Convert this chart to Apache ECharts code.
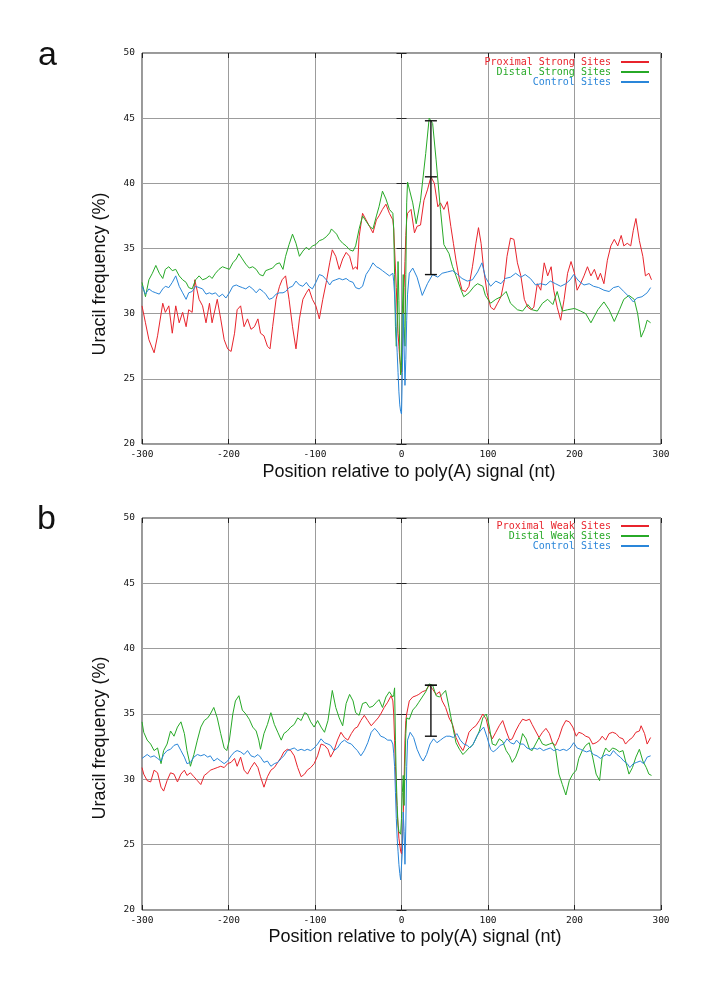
<!DOCTYPE html>
<html><head><meta charset="utf-8">
<script src="https://cdn.jsdelivr.net/npm/echarts@6/dist/echarts.min.js"></script>
<style>html,body{margin:0;padding:0;background:#fff}#c{width:720px;height:996px}</style>
</head><body><div id="c"></div>
<script>
const xTicks=[-300,-200,-100,0,100,200,300];
const yTicks=[20,25,30,35,40,45,50];
const namesA=['Proximal Strong Sites','Distal Strong Sites','Control Sites'];
const namesB=['Proximal Weak Sites','Distal Weak Sites','Control Sites'];
const panelLabels=['a','b'];
const xTitle='Position relative to poly(A) signal (nt)';
const yTitle='Uracil frequency (%)';

const aProximal=[[-300,30.6],[-296,29.3],[-292,28.0],[-286,27.0],[-282,28.3],[-276,30.8],[-273,30.1],[-269,30.6],[-265,28.5],[-261,30.6],[-257,29.3],[-253,30.1],[-249,29.0],[-246,30.3],[-242,30.1],[-239,32.6],[-234,31.1],[-230,30.6],[-226,29.3],[-222,30.8],[-219,29.3],[-213,31.1],[-209,29.6],[-205,28.0],[-201,27.3],[-197,27.1],[-193,28.5],[-190,30.3],[-186,30.6],[-182,29.0],[-178,29.6],[-174,28.8],[-170,29.0],[-166,29.6],[-163,28.5],[-159,28.3],[-155,27.5],[-152,27.3],[-149,29.0],[-145,31.1],[-141,32.1],[-138,32.6],[-134,32.9],[-130,31.1],[-126,29.0],[-122,27.3],[-118,29.6],[-114,31.1],[-110,31.6],[-107,31.9],[-103,31.1],[-99,30.6],[-95,29.6],[-91,31.1],[-87,32.4],[-83,33.9],[-80,34.9],[-76,34.4],[-72,33.4],[-68,34.2],[-64,34.7],[-60,34.4],[-56,33.4],[-53,33.6],[-51,33.4],[-49,35.9],[-45,37.7],[-41,37.2],[-37,36.7],[-33,36.2],[-29,37.2],[-26,37.5],[-22,38.0],[-18,38.4],[-14,37.7],[-10,37.2],[-9,36.5],[-8,35.0],[-7,33.5],[-6,32.0],[-5,30.0],[-4,28.5],[-3,27.5],[-2,26.5],[-1,26.0],[0,25.5],[1,27.0],[2,29.5],[3,32.0],[4,34.0],[5,36.0],[6,37.2],[7,37.7],[11,38.0],[15,36.2],[18,36.7],[22,36.8],[26,38.7],[30,39.5],[34,40.5],[38,40.0],[42,38.2],[45,38.5],[49,38.0],[53,38.6],[57,36.7],[60,35.4],[63,34.1],[67,32.6],[70,31.8],[74,31.7],[78,32.1],[82,33.6],[86,35.4],[89,36.6],[92,35.4],[95,33.4],[99,31.6],[103,30.5],[107,30.3],[111,30.8],[115,31.3],[119,32.6],[122,34.4],[126,35.8],[130,35.7],[134,33.9],[138,32.9],[142,31.1],[146,30.5],[150,30.3],[153,30.5],[157,32.3],[161,31.8],[165,33.9],[169,32.9],[173,33.6],[176,31.8],[180,30.5],[184,29.5],[188,31.1],[192,33.1],[196,34.0],[200,33.1],[203,31.8],[207,32.3],[211,32.9],[215,33.6],[219,32.9],[223,33.4],[227,32.6],[230,33.1],[234,32.3],[238,34.1],[242,35.2],[246,35.7],[250,35.2],[254,36.0],[257,35.2],[261,35.4],[265,35.2],[268,36.4],[271,37.3],[275,35.6],[279,34.4],[282,32.9],[286,33.1],[289,32.6]];

const aDistal=[[-300,32.4],[-296,31.3],[-292,32.6],[-288,33.1],[-284,33.7],[-280,33.1],[-276,32.7],[-273,33.4],[-269,33.6],[-265,33.3],[-261,33.4],[-257,32.9],[-253,32.6],[-249,32.4],[-246,32.0],[-242,31.9],[-238,32.6],[-234,32.9],[-230,32.6],[-226,32.7],[-222,32.9],[-219,32.7],[-215,33.1],[-211,33.4],[-207,33.6],[-203,33.5],[-199,33.4],[-195,33.9],[-191,34.2],[-188,34.6],[-184,34.2],[-180,33.8],[-176,33.5],[-172,33.6],[-168,33.4],[-164,33.0],[-160,32.9],[-157,33.3],[-153,33.4],[-149,33.5],[-145,33.8],[-141,33.9],[-137,33.4],[-134,34.4],[-130,35.3],[-126,36.1],[-122,35.4],[-118,34.4],[-114,34.8],[-110,35.1],[-107,34.9],[-103,35.2],[-99,35.3],[-95,35.6],[-91,35.7],[-87,35.9],[-83,36.2],[-81,36.5],[-75,36.1],[-72,35.7],[-68,35.4],[-64,35.2],[-60,34.9],[-56,34.8],[-53,35.2],[-49,36.5],[-45,37.5],[-41,37.1],[-37,36.7],[-33,36.5],[-29,37.5],[-26,38.2],[-22,39.4],[-18,38.8],[-14,38.0],[-10,37.7],[-9,36.5],[-8,33.0],[-7,29.0],[-6,27.5],[-5,29.0],[-4,34.0],[-3,31.0],[-2,27.0],[-1,25.3],[0,26.0],[1,30.0],[2,33.0],[3,29.0],[4,27.5],[5,33.0],[6,38.5],[7,40.1],[13,38.5],[17,36.9],[22,38.7],[28,42.3],[32,45.0],[36,44.6],[40,41.8],[45,38.0],[49,35.3],[55,34.6],[59,33.6],[63,32.9],[69,31.8],[72,31.3],[78,31.6],[84,32.1],[88,32.3],[94,32.1],[97,31.4],[103,30.8],[109,31.1],[115,31.3],[121,31.7],[126,30.8],[134,30.3],[140,30.2],[146,30.7],[151,30.3],[157,30.2],[163,30.8],[169,31.1],[175,30.7],[180,31.7],[186,30.2],[192,30.3],[200,30.4],[207,30.2],[213,30.0],[219,29.3],[227,30.3],[234,30.9],[240,30.3],[246,29.4],[252,30.3],[257,31.1],[263,31.4],[269,31.1],[273,30.0],[277,28.2],[281,28.8],[284,29.5],[288,29.3]];

const aControl=[[-300,32.1],[-296,31.5],[-292,31.9],[-288,31.7],[-284,31.6],[-280,31.5],[-276,31.9],[-273,32.1],[-269,32.0],[-265,32.4],[-261,32.9],[-257,32.1],[-253,31.6],[-249,31.1],[-246,31.6],[-242,31.7],[-238,32.1],[-234,32.0],[-230,31.9],[-226,31.5],[-222,31.6],[-219,31.5],[-215,31.6],[-211,31.3],[-207,31.5],[-203,31.2],[-199,31.6],[-195,32.1],[-191,32.2],[-188,32.1],[-184,32.0],[-180,31.9],[-176,32.1],[-172,31.9],[-168,31.6],[-164,31.9],[-160,31.7],[-157,31.5],[-153,31.1],[-149,31.2],[-145,31.5],[-141,31.6],[-137,31.6],[-134,31.7],[-130,32.0],[-126,32.1],[-122,32.5],[-118,32.2],[-114,32.1],[-110,32.4],[-107,32.1],[-103,31.9],[-99,32.4],[-95,33.0],[-91,32.9],[-87,32.6],[-83,32.2],[-80,32.5],[-76,32.6],[-72,32.7],[-68,32.6],[-64,32.7],[-60,32.5],[-56,32.4],[-53,32.0],[-49,31.9],[-45,32.1],[-41,33.0],[-37,33.4],[-33,33.9],[-29,33.6],[-26,33.5],[-22,33.3],[-18,33.1],[-14,32.9],[-10,33.1],[-9,32.5],[-8,31.5],[-7,30.0],[-6,28.5],[-5,27.0],[-4,25.5],[-3,24.0],[-2,23.0],[-1,22.5],[0,22.3],[1,25.5],[2,30.0],[3,27.5],[4,24.5],[5,26.5],[6,29.5],[7,31.5],[9,33.1],[13,33.5],[18,32.8],[24,31.4],[30,32.3],[36,33.0],[42,32.8],[47,33.1],[53,33.2],[59,33.3],[65,33.0],[70,32.7],[76,32.5],[82,32.6],[88,33.2],[93,33.9],[97,32.8],[103,32.1],[109,32.5],[115,32.3],[120,32.7],[126,32.8],[132,33.1],[138,32.8],[143,33.0],[149,32.7],[155,32.2],[161,32.3],[167,32.2],[172,32.5],[178,32.3],[184,32.1],[190,32.3],[195,32.6],[199,33.0],[205,32.5],[211,32.2],[217,32.3],[222,32.1],[228,32.0],[234,31.8],[240,31.7],[245,32.0],[251,32.1],[257,31.7],[263,31.3],[268,30.9],[272,31.2],[278,31.3],[284,31.6],[288,32.0]];

const bProximal=[[-300,30.9],[-298,30.4],[-294,29.9],[-290,29.8],[-286,30.7],[-282,30.5],[-278,29.4],[-275,29.1],[-271,29.9],[-267,30.5],[-263,30.4],[-259,29.8],[-255,30.4],[-251,30.7],[-248,30.3],[-244,30.5],[-240,30.2],[-236,29.9],[-232,29.6],[-228,30.3],[-224,30.5],[-221,30.7],[-217,30.8],[-213,30.9],[-209,31.0],[-205,30.9],[-201,31.2],[-197,31.3],[-193,31.6],[-190,31.0],[-186,31.7],[-182,30.7],[-178,30.4],[-174,30.9],[-170,31.3],[-166,30.9],[-163,30.2],[-159,29.4],[-155,30.2],[-151,30.7],[-147,30.9],[-143,31.3],[-139,31.7],[-136,32.1],[-132,32.3],[-128,32.2],[-124,31.8],[-120,30.9],[-116,30.2],[-112,30.4],[-109,30.7],[-105,30.9],[-101,31.2],[-97,31.8],[-93,32.7],[-89,32.6],[-85,32.3],[-82,31.7],[-78,32.2],[-74,33.0],[-70,33.6],[-66,33.2],[-62,33.0],[-58,33.5],[-54,33.9],[-51,34.0],[-47,34.5],[-43,34.9],[-39,34.5],[-35,34.1],[-31,34.4],[-27,34.7],[-24,35.0],[-20,35.5],[-16,35.9],[-12,36.4],[-10,36.0],[-9,35.0],[-8,33.0],[-7,31.0],[-6,29.0],[-5,27.5],[-4,26.5],[-3,25.5],[-2,25.0],[-1,24.5],[0,24.3],[1,25.0],[2,27.0],[3,30.0],[4,33.0],[5,34.5],[6,35.0],[9,36.0],[13,36.3],[17,36.4],[20,36.5],[24,36.7],[28,36.8],[32,37.2],[36,36.9],[40,36.5],[44,36.7],[47,36.0],[51,35.5],[55,34.7],[59,34.2],[63,33.2],[67,32.6],[71,32.2],[74,32.7],[78,33.6],[82,33.9],[86,34.1],[90,34.5],[94,35.0],[98,34.6],[101,33.7],[105,33.1],[109,33.6],[113,34.1],[117,34.5],[121,33.7],[125,33.0],[128,33.1],[132,33.7],[136,34.2],[140,34.6],[144,34.5],[148,34.6],[151,34.2],[155,33.7],[159,33.2],[163,33.6],[167,33.9],[171,33.5],[175,32.7],[178,32.6],[182,33.2],[186,34.0],[190,34.5],[194,34.4],[198,34.0],[202,33.3],[205,33.6],[209,33.5],[213,33.3],[217,33.2],[221,32.7],[225,32.8],[229,33.0],[232,33.3],[236,33.0],[240,33.5],[244,33.6],[248,33.5],[252,33.2],[256,33.1],[259,32.7],[263,33.0],[267,33.2],[271,33.6],[275,33.7],[277,34.1],[281,33.5],[284,32.7],[288,33.2]];

const bDistal=[[-300,34.4],[-298,33.6],[-294,33.0],[-290,32.7],[-286,32.2],[-282,32.4],[-278,31.2],[-275,32.2],[-271,32.7],[-267,33.7],[-263,33.3],[-259,34.0],[-255,34.4],[-251,33.5],[-248,32.2],[-244,31.0],[-240,31.9],[-236,33.0],[-232,34.0],[-228,34.5],[-224,34.7],[-221,35.0],[-217,35.5],[-213,34.7],[-209,33.5],[-205,32.4],[-202,32.2],[-199,33.0],[-195,35.0],[-192,36.0],[-188,36.4],[-184,35.3],[-180,35.0],[-176,34.6],[-172,34.0],[-168,33.7],[-165,33.0],[-163,32.3],[-159,33.5],[-155,34.2],[-151,35.1],[-147,34.2],[-143,33.6],[-139,33.0],[-136,33.5],[-132,33.7],[-128,34.0],[-124,34.2],[-120,34.7],[-116,34.5],[-112,35.1],[-109,35.0],[-105,34.4],[-101,34.0],[-97,34.5],[-93,34.0],[-89,33.6],[-85,34.5],[-80,36.8],[-76,35.5],[-72,34.7],[-68,34.1],[-64,35.8],[-60,36.5],[-56,36.0],[-53,35.1],[-49,34.9],[-45,35.8],[-41,35.9],[-37,35.5],[-33,35.6],[-29,35.9],[-26,36.1],[-22,35.5],[-18,36.3],[-14,36.7],[-10,36.3],[-9,36.5],[-8,37.0],[-7,33.0],[-6,30.0],[-5,28.0],[-4,26.5],[-3,26.0],[-2,25.9],[-1,25.8],[0,27.0],[1,29.0],[2,30.3],[3,28.0],[4,31.0],[5,33.5],[6,34.7],[9,34.6],[13,35.3],[17,35.6],[20,35.9],[24,36.3],[28,36.7],[32,37.3],[36,37.2],[40,36.4],[44,36.3],[47,36.5],[51,36.8],[55,35.5],[59,34.1],[63,32.8],[67,32.3],[71,31.9],[74,32.1],[78,32.4],[82,32.6],[86,33.1],[90,33.7],[94,34.7],[98,35.0],[101,34.2],[105,32.7],[109,32.6],[113,33.1],[117,32.9],[121,32.2],[125,31.8],[128,31.3],[132,31.7],[136,32.4],[140,33.5],[144,33.1],[148,32.3],[151,32.2],[155,32.7],[159,33.2],[163,32.7],[167,32.6],[171,32.7],[175,32.8],[178,32.3],[182,30.4],[186,29.6],[190,28.8],[194,29.9],[198,30.4],[202,30.7],[205,31.6],[209,32.2],[213,32.6],[217,32.8],[221,31.7],[225,30.4],[229,29.9],[232,31.7],[236,32.4],[240,32.1],[244,32.4],[248,32.3],[252,32.1],[256,32.2],[259,31.4],[263,30.4],[267,30.9],[271,31.7],[275,32.3],[279,31.4],[283,30.9],[286,30.4],[289,30.3]];

const bControl=[[-300,31.6],[-298,31.7],[-294,31.9],[-290,31.7],[-286,31.8],[-282,31.6],[-278,31.4],[-275,31.9],[-271,32.2],[-267,32.3],[-263,32.6],[-259,32.7],[-255,32.2],[-251,31.7],[-248,31.2],[-244,31.3],[-240,31.7],[-236,31.9],[-232,31.8],[-228,31.9],[-224,31.7],[-221,31.8],[-217,31.4],[-213,31.6],[-209,31.4],[-205,31.2],[-201,31.4],[-197,31.8],[-193,32.1],[-190,32.2],[-186,32.1],[-182,31.9],[-178,32.2],[-174,31.8],[-170,31.7],[-166,31.9],[-163,31.7],[-159,31.3],[-155,31.4],[-151,31.0],[-147,31.2],[-143,31.3],[-139,31.6],[-136,31.8],[-132,32.2],[-128,32.3],[-124,32.4],[-120,32.2],[-116,32.3],[-112,32.2],[-109,32.3],[-105,32.2],[-101,32.4],[-97,32.7],[-93,33.1],[-89,32.8],[-85,32.7],[-82,32.6],[-78,32.2],[-74,32.4],[-70,32.8],[-66,33.0],[-62,32.8],[-58,32.7],[-54,32.4],[-51,32.2],[-47,31.8],[-43,32.2],[-39,32.8],[-35,33.6],[-31,33.9],[-27,33.6],[-24,33.3],[-20,33.2],[-16,33.0],[-12,33.0],[-10,32.7],[-9,32.0],[-8,31.0],[-7,29.0],[-6,27.0],[-5,25.5],[-4,24.5],[-3,23.5],[-2,22.8],[-1,22.3],[0,22.2],[1,24.5],[2,27.5],[3,26.0],[4,23.5],[5,26.5],[6,31.0],[7,33.0],[10,33.6],[14,33.2],[18,32.3],[22,31.7],[25,31.4],[29,31.9],[33,32.7],[37,33.1],[41,32.8],[45,33.0],[49,33.2],[52,33.3],[56,33.3],[60,33.2],[64,33.5],[68,33.0],[72,32.7],[76,32.6],[79,32.4],[83,32.7],[87,33.3],[91,33.7],[95,34.0],[99,33.2],[103,32.3],[106,32.1],[110,32.3],[114,32.6],[118,32.7],[122,33.1],[126,32.8],[130,32.7],[133,33.0],[137,32.7],[141,32.7],[145,32.4],[149,32.3],[153,32.4],[157,32.3],[160,32.4],[164,32.2],[168,32.3],[172,32.4],[176,32.2],[180,32.3],[183,32.2],[187,32.3],[191,32.2],[195,32.4],[199,32.8],[203,32.4],[207,32.3],[210,32.2],[214,32.1],[218,32.2],[222,31.9],[226,31.8],[230,31.6],[234,31.8],[237,31.9],[241,31.8],[245,32.2],[249,31.9],[253,31.7],[257,31.4],[261,31.2],[264,30.9],[268,31.2],[272,31.3],[276,31.4],[280,31.2],[284,31.7],[288,31.8]];

// error bars: [position, low, middle cap, high]
const errA=[[34,33.0,40.5,44.8]];
const errB=[[34,33.3,37.2,37.2]];

const colors=['#e8242c','#27a927','#2a86d9'];
const monoFont='DejaVu Sans Mono';
const sansFont='Liberation Sans';

const chart=echarts.init(document.getElementById('c'),null,{renderer:'canvas'});

const grids=[
  {left:142,top:53,width:519,height:391},
  {left:142,top:518,width:519,height:392}
];

function xAx(g,pos){
  const main=pos==='bottom';
  return {gridIndex:g,type:'value',position:pos,min:xTicks[0],max:xTicks[xTicks.length-1],interval:xTicks[1]-xTicks[0],
    axisLine:{show:false},
    axisTick:{show:true,inside:true,length:5,lineStyle:{color:'#222'}},
    axisLabel:{show:main,fontFamily:monoFont,fontSize:9.5,color:'#111',margin:6},
    splitLine:{show:main,lineStyle:{color:'#9c9c9c',width:1}}};
}
function yAx(g,pos){
  const main=pos==='left';
  return {gridIndex:g,type:'value',position:pos,min:yTicks[0],max:yTicks[yTicks.length-1],interval:yTicks[1]-yTicks[0],
    axisLine:{show:false},
    axisTick:{show:true,inside:true,length:5,lineStyle:{color:'#222'}},
    axisLabel:{show:main,fontFamily:monoFont,fontSize:9.5,color:'#111',margin:7},
    splitLine:{show:main,lineStyle:{color:'#9c9c9c',width:1}}};
}

function errRender(params,api){
  const x=api.value(0),lo=api.value(1),mid=api.value(2),hi=api.value(3);
  const a=api.coord([x,lo]),m=api.coord([x,mid]),h=api.coord([x,hi]);
  const w=6;
  const st={stroke:'#111',lineWidth:1.4};
  const cap=p=>({type:'line',shape:{x1:p[0]-w,y1:p[1],x2:p[0]+w,y2:p[1]},style:st});
  return {type:'group',children:[
    {type:'line',shape:{x1:a[0],y1:a[1],x2:h[0],y2:h[1]},style:st},
    cap(a),cap(m),cap(h)
  ]};
}

function lineSeries(name,data,color,xi,yi){
  return {type:'line',name:name,data:data,xAxisIndex:xi,yAxisIndex:yi,symbol:'none',showSymbol:false,
    lineStyle:{color:color,width:1},itemStyle:{color:color},animation:false,z:3};
}

const legendBase={orient:'vertical',align:'right',right:70,padding:0,itemWidth:28,itemHeight:9,itemGap:0,selectedMode:false,
  itemStyle:{opacity:0},
  textStyle:{fontFamily:monoFont,fontSize:10,padding:[0,5,0,0]}};

const titleFont='18px "Liberation Sans"';

const option={
  animation:false,
  backgroundColor:'#ffffff',
  grid:grids.map(g=>Object.assign({show:true,borderColor:'#333',borderWidth:1,backgroundColor:'transparent'},g)),
  xAxis:[xAx(0,'bottom'),xAx(0,'top'),xAx(1,'bottom'),xAx(1,'top')],
  yAxis:[yAx(0,'left'),yAx(0,'right'),yAx(1,'left'),yAx(1,'right')],
  legend:[
    Object.assign({},legendBase,{top:57,data:namesA.map((n,i)=>({name:n,textStyle:{color:colors[i]}}))}),
    Object.assign({},legendBase,{top:521,data:namesB.map((n,i)=>({name:n,textStyle:{color:colors[i]}}))})
  ],
  graphic:[
    {type:'text',left:38,top:39,style:{text:panelLabels[0],font:'34px "Liberation Sans"',fill:'#111'}},
    {type:'text',left:37,top:503,style:{text:panelLabels[1],font:'34px "Liberation Sans"',fill:'#111'}},
    {type:'text',x:409,y:472,style:{text:xTitle,font:titleFont,fill:'#111',align:'center',verticalAlign:'middle'}},
    {type:'text',x:415,y:937,style:{text:xTitle,font:titleFont,fill:'#111',align:'center',verticalAlign:'middle'}},
    {type:'text',x:100,y:274,rotation:Math.PI/2,style:{text:yTitle,font:titleFont,fill:'#111',align:'center',verticalAlign:'middle'}},
    {type:'text',x:100,y:738,rotation:Math.PI/2,style:{text:yTitle,font:titleFont,fill:'#111',align:'center',verticalAlign:'middle'}}
  ],
  series:[
    lineSeries(namesA[0],aProximal,colors[0],0,0),
    lineSeries(namesA[1],aDistal,colors[1],0,0),
    lineSeries(namesA[2],aControl,colors[2],0,0),
    {type:'custom',name:'errA',xAxisIndex:0,yAxisIndex:0,data:errA,renderItem:errRender,encode:{x:0,y:[1,2,3]},z:5},
    lineSeries(namesB[0],bProximal,colors[0],2,2),
    lineSeries(namesB[1],bDistal,colors[1],2,2),
    lineSeries(namesB[2],bControl,colors[2],2,2),
    {type:'custom',name:'errB',xAxisIndex:2,yAxisIndex:2,data:errB,renderItem:errRender,encode:{x:0,y:[1,2,3]},z:5}
  ]
};
chart.setOption(option);
</script>
</body></html>
